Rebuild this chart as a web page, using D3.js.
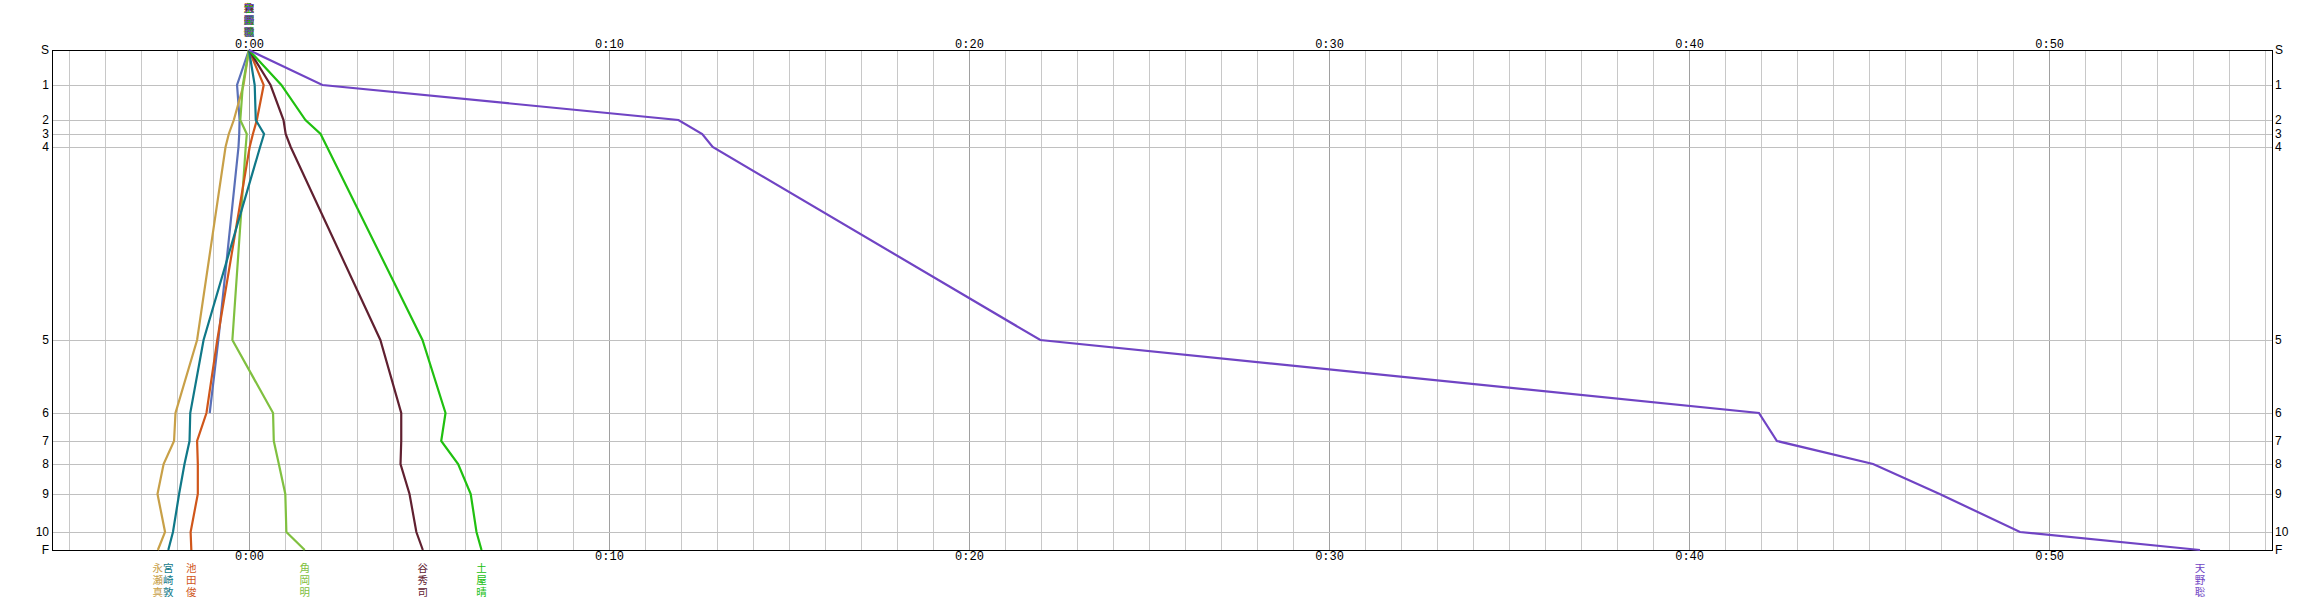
<!DOCTYPE html>
<html><head><meta charset="utf-8">
<script src="https://cdn.jsdelivr.net/npm/d3@7"></script>
<style>
html,body{margin:0;padding:0;background:#fff;}
svg{display:block;}
</style></head>
<body>
<script>
// ---- data ----
const controls = ["S","1","2","3","4","5","6","7","8","9","10","F"];
// cumulative course position of each control (relative leg distance units)
const controlPos = [0, 35, 70, 84, 97, 290, 363, 391, 414, 444, 482, 500];
const timeTicks = [0, 10, 20, 30, 40, 50];
const timeTickLabels = ["0:00","0:10","0:20","0:30","0:40","0:50"];
const xDomain = [-5.47, 56.19];   // minutes
// runner names
const names = ["永瀬真","宮崎敦","池田俊","角岡明","谷秀司","土屋晴","天野聡"];
// time behind reference at each control (minutes), S..F
const nagase   = [0, -0.15, -0.42, -0.56, -0.65, -1.44, -2.04, -2.08, -2.37, -2.54, -2.33, -2.53];
const miyazaki = [0, 0.16, 0.19, 0.42, 0.31, -1.26, -1.63, -1.65, -1.79, -1.94, -2.11, -2.24];
const ikeda    = [0, 0.41, 0.22, 0.11, 0.02, -0.88, -1.18, -1.44, -1.42, -1.42, -1.62, -1.60];
const kadooka  = [0, -0.17, -0.24, -0.06, -0.09, -0.46, 0.67, 0.69, 0.83, 1.01, 1.04, 1.55];
const tani     = [0, 0.60, 0.96, 1.02, 1.16, 3.65, 4.23, 4.23, 4.21, 4.46, 4.65, 4.83];
const tsuchiya = [0, 0.90, 1.57, 1.99, 2.17, 4.82, 5.46, 5.34, 5.81, 6.16, 6.32, 6.46];
const amano    = [0, 2.04, 11.93, 12.59, 12.88, 21.98, 41.94, 42.44, 45.11, 46.96, 49.19, 54.19];
const blueRunner = [0, -0.33, -0.26, -0.27, -0.29, -0.85, -1.09]; // stops at control 6
const series = [blueRunner, nagase, kadooka, ikeda, miyazaki, tani, tsuchiya, amano];
const seriesNames = ["", names[0], names[3], names[2], names[1], names[4], names[5], names[6]];
const colors = ["#5a70b8","#c8a048","#80c040","#d0561a","#107888","#602030","#20c010","#7044c4"];

// ---- layout ----
const W = 2324, H = 600;
const svg = d3.select("body").append("svg").attr("width", W).attr("height", H);
const x = d3.scaleLinear().domain(xDomain).range([52, 2272]);
const y = d3.scaleLinear().domain([0, 500]).range([50, 550]);

// vertical grid (every minute)
const minutes = d3.range(Math.ceil(xDomain[0]), Math.floor(xDomain[1]) + 1);
svg.append("g").attr("shape-rendering", "crispEdges").selectAll("line").data(minutes).join("line")
  .attr("x1", d => Math.round(x(d)) + 0.5).attr("x2", d => Math.round(x(d)) + 0.5)
  .attr("y1", y(0)).attr("y2", y(500))
  .attr("stroke", d => d % 10 === 0 ? "#a0a0a0" : "#c8c8c8")
  .attr("stroke-width", 1);

// horizontal grid at controls
svg.append("g").attr("shape-rendering", "crispEdges").selectAll("line").data(controlPos).join("line")
  .attr("x1", x(xDomain[0])).attr("x2", x(xDomain[1]))
  .attr("y1", d => Math.round(y(d)) + 0.5).attr("y2", d => Math.round(y(d)) + 0.5)
  .attr("stroke", "#c0c0c0").attr("stroke-width", 1);

// frame
svg.append("rect").attr("shape-rendering", "crispEdges")
  .attr("x", x(xDomain[0]) + 0.5).attr("y", y(0) + 0.5)
  .attr("width", x(xDomain[1]) - x(xDomain[0])).attr("height", y(500) - y(0))
  .attr("fill", "none").attr("stroke", "#000").attr("stroke-width", 1);

// time axes (top and bottom)
const fmt = d => timeTickLabels[timeTicks.indexOf(d)];
const topAxis = d3.axisTop(x).tickValues(timeTicks).tickFormat(fmt).tickSize(0).tickPadding(0);
const botAxis = d3.axisBottom(x).tickValues(timeTicks).tickFormat(fmt).tickSize(0).tickPadding(0);
const gt = svg.append("g").attr("transform", `translate(0,${y(0) - 2})`).call(topAxis);
const gb = svg.append("g").attr("transform", `translate(0,${y(500) + 1})`).call(botAxis);
[gt, gb].forEach(g => {
  g.select(".domain").remove();
  g.selectAll("text").attr("font-family", "Liberation Mono, monospace")
    .attr("font-size", 12).attr("fill", "#000");
});

// control axes (left and right)
const yAxisScale = d3.scaleOrdinal().domain(controls).range(controlPos.map(p => y(p)));
const leftAxis = d3.axisLeft(yAxisScale).tickSize(0).tickPadding(3);
const rightAxis = d3.axisRight(yAxisScale).tickSize(0).tickPadding(3);
const gl = svg.append("g").attr("transform", `translate(${x(xDomain[0])},0)`).call(leftAxis);
const gr = svg.append("g").attr("transform", `translate(${x(xDomain[1])},0)`).call(rightAxis);
[gl, gr].forEach(g => {
  g.select(".domain").remove();
  g.selectAll("text").attr("font-family", "Liberation Sans, sans-serif")
    .attr("font-size", 12).attr("fill", "#000");
});

// runner lines
const line = d3.line().x(d => x(d.t)).y(d => y(d.p));
series.forEach((s, i) => {
  const pts = s.map((t, k) => ({t, p: controlPos[k]}));
  svg.append("path").datum(pts).attr("d", line)
    .attr("fill", "none").attr("stroke", colors[i]).attr("stroke-width", 2.2)
    .attr("stroke-linejoin", "miter");
});

// vertical name labels
function vText(g, str, cx, cy0, color) {
  Array.from(str).forEach((ch, k) => {
    g.append("text").attr("x", cx).attr("y", cy0 + k * 12)
      .attr("text-anchor", "middle").attr("dominant-baseline", "central")
      .attr("font-family", "Noto Sans CJK JP, sans-serif").attr("font-size", 10.5)
      .attr("fill", color).text(ch);
  });
}
const gn = svg.append("g");
series.forEach((s, i) => {
  if (!seriesNames[i]) return;
  vText(gn, seriesNames[i], x(s[0]), 7.5, colors[i]);
  if (s.length === controls.length) vText(gn, seriesNames[i], x(s[s.length - 1]), 567, colors[i]);
});
</script>
</body></html>
